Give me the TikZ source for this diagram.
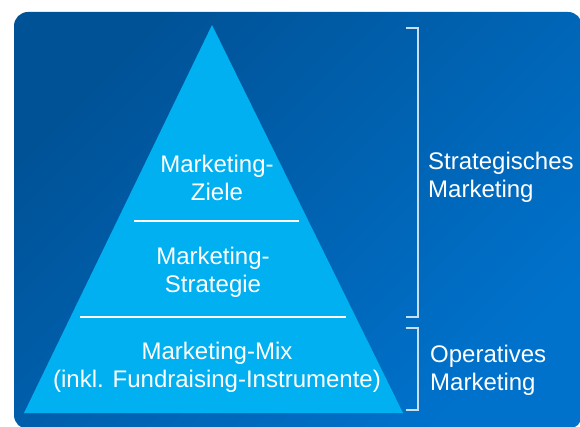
\documentclass[tikz,border=0pt]{standalone}
\usepackage{fontspec}
\setmainfont{Liberation Sans}
\usetikzlibrary{positioning}

\definecolor{bgdark}{RGB}{0,82,150}
\definecolor{bglight}{RGB}{0,114,204}
\definecolor{pyramid}{RGB}{0,176,240}
\definecolor{bracket}{RGB}{200,222,242}

\begin{document}
\begin{tikzpicture}[x=1pt, y=-1pt,
  pyrtext/.style={text=white, font=\fontsize{24}{28}\selectfont, align=center, inner sep=0pt},
  sidetext/.style={pyrtext, align=left, anchor=west},
  brace/.style={draw=bracket, line width=1.5pt}]
\useasboundingbox (0,0) rectangle (580,427);

% Background panel
\shade[top color=bgdark, bottom color=bglight, shading angle=45, rounded corners=14pt]
  (14,12) rectangle (582,429);

% Pyramid
\coordinate (apex) at (212,25);
\coordinate (baseL) at (24,413);
\coordinate (baseR) at (403,413);
\fill[pyramid] (apex) -- (baseL) -- (baseR) -- cycle;

% Dividers
\draw[white, line width=2pt] (134,221) -- (299,221);
\draw[white, line width=2pt] (80,317) -- (346,317);

\node[pyrtext] (ziele) at (217,178) {Marketing-\\Ziele};
\node[pyrtext] (strategie) at (213,272) {Marketing-\\Strategie};
\node[pyrtext] (mix) at (217,367) {Marketing-Mix\\(inkl. Fundraising-Instrumente)};

% Brackets on the right
\coordinate (b1t) at (406,28);
\coordinate (b1b) at (406,317);
\coordinate (b2t) at (406,328);
\coordinate (b2b) at (406,410);
\draw[brace] (b1t) -- ++(12,0) |- (b1b);
\draw[brace] (b2t) -- ++(12,0) |- (b2b);

\node[sidetext] (strat) at (428,177) {Strategisches\\Marketing};
\node[sidetext] (oper) at (430,370) {Operatives\\Marketing};
\end{tikzpicture}
\end{document}
